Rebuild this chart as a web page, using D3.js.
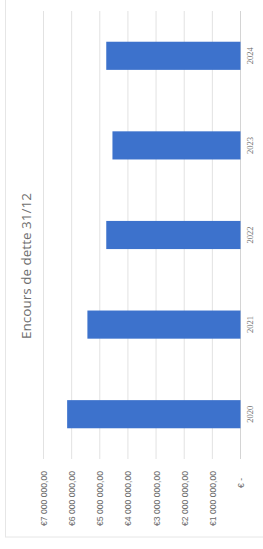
<!DOCTYPE html>
<html>
<head>
<meta charset="utf-8">
<script src="https://cdn.jsdelivr.net/npm/d3@7"></script>
<style>
  html, body { margin: 0; padding: 0; background: #fff; }
  svg { display: block; }
  .grid line { stroke: #e2e2e2; stroke-width: 1; }
  .axis path { display: none; }
  .axis line { display: none; }
</style>
</head>
<body>
<div id="chart"></div>
<script>
const years = ['2020', '2021', '2022', '2023', '2024'];
const encours = [6160000, 5440000, 4770000, 4550000, 4770000];
const tickValues = [0, 1000000, 2000000, 3000000, 4000000, 5000000, 6000000, 7000000];
const tickLabels = ['€ -', '€1 000 000,00', '€2 000 000,00', '€3 000 000,00', '€4 000 000,00', '€5 000 000,00', '€6 000 000,00', '€7 000 000,00'];
const title = 'Encours de dette 31/12';

const W = 263, H = 549;
// Le graphique Excel est photographié tourné de 90° : valeurs vers la gauche, années à droite.
const baseX = 240.5, topX = 43.5, catTop = 11, catBottom = 459;

const svg = d3.select('#chart').append('svg').attr('width', W).attr('height', H);

svg.append('rect')
  .attr('x', 5.5).attr('y', -5).attr('width', W + 10).attr('height', 542)
  .attr('fill', '#fff').attr('stroke', '#e6e6e6');

const x = d3.scaleLinear().domain([0, 7000000]).range([baseX, topX]);
const y = d3.scaleBand().domain(years).range([catBottom, catTop]).paddingInner(0.686).paddingOuter(0.343);

// quadrillage
svg.append('g').attr('class', 'grid')
  .selectAll('line')
  .data(tickValues)
  .join('line')
  .attr('x1', (d) => x(d)).attr('x2', (d) => x(d))
  .attr('y1', catTop).attr('y2', catBottom)
  .style('stroke', (d) => (d === 0 ? '#d4d4d4' : null));

svg.append('g')
  .selectAll('rect')
  .data(years)
  .join('rect')
  .attr('x', (d, i) => x(encours[i]))
  .attr('y', (d) => y(d))
  .attr('width', (d, i) => x(0) - x(encours[i]))
  .attr('height', y.bandwidth())
  .attr('fill', '#3d72cc');

// axe des valeurs (en bas, texte vertical)
const valueAxis = svg.append('g')
  .attr('class', 'axis')
  .attr('transform', `translate(0,471)`)
  .call(d3.axisBottom(x).tickValues(tickValues).tickSize(0).tickFormat((d, i) => tickLabels[i]));
valueAxis.selectAll('text')
  .attr('x', 0).attr('y', 0).attr('dy', '0.35em')
  .attr('transform', 'rotate(-90)')
  .attr('text-anchor', 'end')
  .attr('fill', '#6a6a6a')
  .style('font', '8.6px "Liberation Sans", Arial, sans-serif');
valueAxis.selectAll('text').filter((d) => d === 0).attr('dx', '-0.8em');

// axe des années (à droite)
const catAxis = svg.append('g')
  .attr('class', 'axis')
  .attr('transform', `translate(${baseX},0)`)
  .call(d3.axisRight(y).tickSize(0));
catAxis.selectAll('text')
  .attr('x', 0).attr('y', 0).attr('dy', '0.35em')
  .attr('transform', 'translate(10,0) rotate(-90)')
  .attr('text-anchor', 'middle')
  .attr('fill', '#6a6a6a')
  .style('font', '8.5px "Liberation Serif", serif');

svg.append('text')
  .attr('transform', 'translate(26,266) rotate(-90)')
  .attr('text-anchor', 'middle')
  .attr('dy', '0.35em')
  .attr('fill', '#6e6e6e')
  .style('font', '13.5px "Open Sans", sans-serif')
  .text(title);
</script>
</body>
</html>
